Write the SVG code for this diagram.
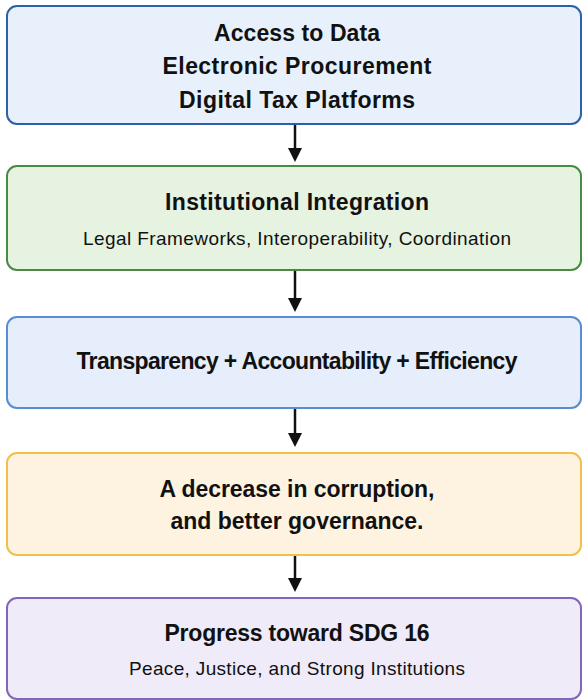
<svg xmlns="http://www.w3.org/2000/svg" width="583" height="700" viewBox="0 0 583 700">
<style>
.box{stroke-width:2}
.t{font-family:"Liberation Sans",Arial,sans-serif;font-weight:bold;font-size:23px;fill:#111;text-anchor:middle}
.s{font-family:"Liberation Sans",Arial,sans-serif;font-size:19px;fill:#111;text-anchor:middle}
.c line{stroke:#111;stroke-width:2.5}
.c polygon{fill:#111}
</style>
<rect width="583" height="700" fill="#ffffff"/>
<g id="n1">
<rect class="box" x="7" y="6" width="574" height="118" rx="10" fill="#e8f0fb" stroke="#2f5fa8"/>
<text class="t" x="297" y="41" textLength="166">Access to Data</text>
<text class="t" x="297" y="74" textLength="269">Electronic Procurement</text>
<text class="t" x="297" y="108" textLength="236">Digital Tax Platforms</text>
</g>
<g id="n2">
<rect class="box" x="7" y="166" width="574" height="104" rx="10" fill="#e6f3e1" stroke="#4a8a45"/>
<text class="t" x="297" y="210" textLength="264">Institutional Integration</text>
<text class="s" x="297" y="245" textLength="428">Legal Frameworks, Interoperability, Coordination</text>
</g>
<g id="n3">
<rect class="box" x="7" y="317" width="574" height="91" rx="10" fill="#e5eefa" stroke="#5b8bd0"/>
<text class="t" x="297" y="369" textLength="441">Transparency + Accountability + Efficiency</text>
</g>
<g id="n4">
<rect class="box" x="7" y="453" width="574" height="102" rx="10" fill="#fdf3e0" stroke="#f0c04a"/>
<text class="t" x="297" y="497" textLength="275">A decrease in corruption,</text>
<text class="t" x="297" y="529" textLength="253">and better governance.</text>
</g>
<g id="n5">
<rect class="box" x="7" y="598" width="574" height="101" rx="10" fill="#efebf8" stroke="#8466b8"/>
<text class="t" x="297" y="641" textLength="265">Progress toward SDG 16</text>
<text class="s" x="297" y="675" textLength="336">Peace, Justice, and Strong Institutions</text>
</g>
<g id="connectors" class="c">
<line x1="295" y1="125" x2="295" y2="150"/><polygon points="288,148 302,148 295,162"/>
<line x1="295" y1="271" x2="295" y2="300"/><polygon points="288,298 302,298 295,312"/>
<line x1="295" y1="409" x2="295" y2="435"/><polygon points="288,433 302,433 295,447"/>
<line x1="295" y1="556" x2="295" y2="580"/><polygon points="288,578 302,578 295,592"/>
</g>
</svg>
